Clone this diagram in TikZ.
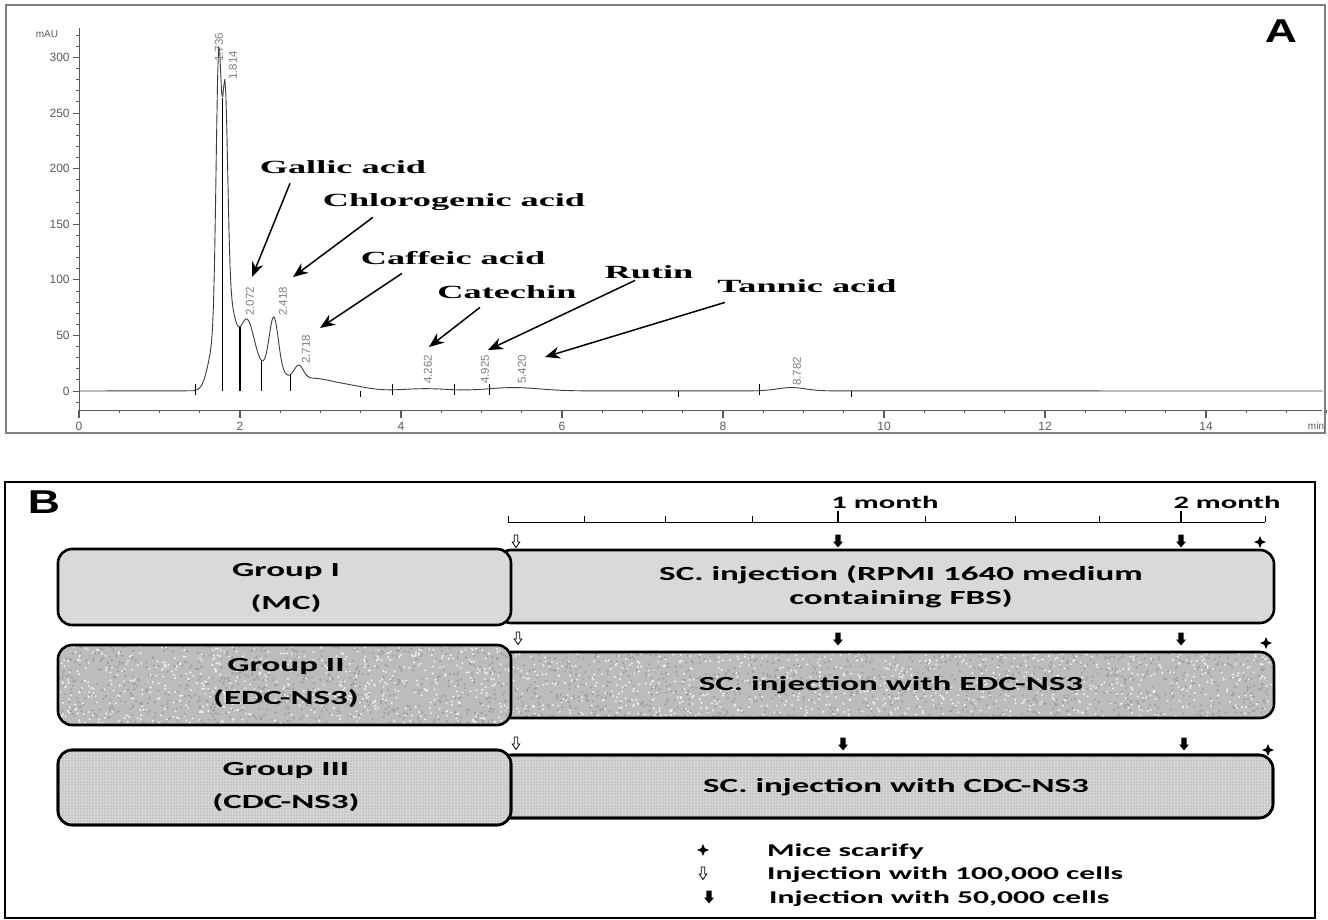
\documentclass[tikz,border=0pt]{standalone}
\usepackage{fontspec}
\usepackage{tikz}
\usetikzlibrary{arrows.meta, shapes.geometric, patterns.meta}

\newfontfamily\axisfont{Liberation Sans}
\newfontfamily\panelfont[FakeStretch=1.35]{Liberation Sans}
\newfontfamily\compfont[FakeStretch=1.95]{Liberation Serif}
\newfontfamily\grpfont[FakeStretch=1.75]{Carlito}

\definecolor{axisgray}{RGB}{90,90,90}
\definecolor{tracegray}{RGB}{60,60,60}
\definecolor{boxone}{RGB}{217,217,217}
\definecolor{boxtwo}{RGB}{188,188,188}
\definecolor{boxthree}{RGB}{214,214,214}

\begin{document}
\begin{tikzpicture}[x=1pt, y=-1pt,
    declare function={
        peak(\x,\m,\h,\w) = \h*exp(-pow(min(abs(\x-\m)/\w,3),2));
        trace(\x) = peak(\x,1.735,240,0.045) + peak(\x,1.815,188,0.045)
                  + peak(\x,1.70,45,0.12) + peak(\x,1.86,70,0.11)
                  + peak(\x,2.08,50,0.13) + peak(\x,2.42,48,0.08)
                  + peak(\x,2.30,20,0.35) + peak(\x,2.73,12,0.08)
                  + peak(\x,2.90,9,0.30) + peak(\x,3.30,5,0.35)
                  + peak(\x,4.30,2,0.40) + peak(\x,5.40,3,0.45)
                  + peak(\x,8.85,3,0.25);
    }]

                % Styles for the chromatogram (A) and the timeline (B)
                \tikzset{
                    comptxt/.style={font=\compfont\bfseries\fontsize{18.6}{20}\selectfont, anchor=base, inner sep=2pt},
                    comparrow/.style={line width=1.5pt, -{Stealth[length=15pt, width=12pt]}},
                    peaklab/.style={font=\axisfont\fontsize{11.5}{11.5}\selectfont, text=gray, rotate=90, anchor=west, inner sep=0pt},
                    ticklab/.style={font=\axisfont\fontsize{12}{12}\selectfont, text=axisgray, inner sep=0pt},
                    paneltxt/.style={font=\panelfont\bfseries\fontsize{33}{33}\selectfont, inner sep=0pt},
                    grouptxt/.style={font=\grpfont\bfseries\fontsize{20}{33}\selectfont, align=center},
                    injtxt/.style={font=\grpfont\bfseries\fontsize{20}{23.5}\selectfont, align=center},
                    monthtxt/.style={font=\grpfont\bfseries\fontsize{17.5}{17.5}\selectfont},
                    keytxt/.style={font=\grpfont\bfseries\fontsize{18}{18}\selectfont, anchor=base west, inner sep=0pt},
                    boxline/.style={line width=2.6pt, rounded corners=14pt},
                    dotrows/.style={pattern={Dots[distance=3pt, radius=0.65pt]}, pattern color=gray!85, rounded corners=14pt},
                    openmark/.pic={\draw[fill=white, line width=0.8pt, line join=miter]
                        (-1.8,-6) -- (1.8,-6) -- (1.8,1) -- (3.8,1) -- (0,6.5) -- (-3.8,1) -- (-1.8,1) -- cycle;},
                    fullmark/.pic={\fill[black]
                        (-2.6,-6.5) -- (2.6,-6.5) -- (2.6,0.5) -- (5,0.5) -- (0,6.5) -- (-5,0.5) -- (-2.6,0.5) -- cycle;},
                    scarify/.style={star, star points=4, star point ratio=2.4, fill=black, minimum size=12pt, inner sep=0pt}
                }

                \useasboundingbox (0,0) rectangle (1328,920);
                \fill[white] (0,0) rectangle (1328,920);
                \pgfmathsetseed{42}

                % Panel frames
                \draw[gray, line width=1.6pt] (6,5) rectangle (1325,433);
                \draw[black, line width=1.5pt] (5,482) rectangle (1315,918);

                % Axes of the chromatogram, in pixel units
                \begin{scope}[axisgray, line width=0.8pt]
                    \draw (79,28) -- (79,416);
                    \draw (79,410) -- (1322,410);
                    \foreach \v in {-10,0,...,320}
                        \draw ({79},{391-1.112*\v}) -- ({76},{391-1.112*\v});
                    \foreach \v in {0,50,...,300} {
                        \draw ({79},{391-1.112*\v}) -- ({73},{391-1.112*\v});
                        \node (ylab\v) at ({70},{391-1.112*\v}) [ticklab, anchor=east] {\v};
                    }
                    \foreach \m in {0,0.5,...,15.5}
                        \draw ({79+80.5*\m},410) -- ({79+80.5*\m},413);
                    \foreach \m in {0,2,...,14} {
                        \draw[line width=1.1pt] ({79+80.5*\m},410) -- ({79+80.5*\m},418);
                        \node (xlab\m) at ({79+80.5*\m},426) [ticklab] {\m};
                    }
                    \node (yunit) at (47,34) [ticklab, font=\axisfont\fontsize{10}{10}\selectfont] {mAU};
                    \node (xunit) at (1316,426) [ticklab, font=\axisfont\fontsize{10}{10}\selectfont] {min};
                \end{scope}

                % Trace in data units: minutes and mAU
                \begin{scope}[shift={(79,391)}, x=80.5pt, y=1.112pt]
                    \draw[tracegray, line width=0.9pt, line join=round]
                        (0,0) -- plot[domain=1.4:10.4, samples=700] (\x,{trace(\x)}) -- (15.45,0);
                    \foreach \t in {1.78,2.0,2.27,2.63}
                        \draw[black, line width=1.3pt] (\t,0) -- (\t,{trace(\t)});
                    \foreach \t in {1.45,3.9,4.66,5.1,8.45}
                        \draw[black, line width=1pt] (\t,-4) -- (\t,6);
                    \foreach \t in {3.5,7.45,9.6}
                        \draw[black, line width=1pt] (\t,0) -- (\t,-5);
                \end{scope}

                % Retention times printed over the peaks
                \node (l1736) at (219,62) [peaklab] {1.736};
                \node (l1814) at (233,80) [peaklab] {1.814};
                \node (l2072) at (250,316) [peaklab] {2.072};
                \node (l2418) at (283,316) [peaklab] {2.418};
                \node (l2718) at (306,364) [peaklab] {2.718};
                \node (l4262) at (428,384) [peaklab] {4.262};
                \node (l4925) at (485,384) [peaklab] {4.925};
                \node (l5420) at (522,384) [peaklab] {5.420};
                \node (l8782) at (797,386) [peaklab] {8.782};

                % Compound names with their arrows
                \node (gallic) at (343,174) [comptxt] {Gallic acid};
                \node (chloro) at (454,207) [comptxt] {Chlorogenic acid};
                \node (caffeic) at (453,265) [comptxt] {Caffeic acid};
                \node (catechin) at (507,298) [comptxt] {Catechin};
                \node (rutin) at (649,278) [comptxt] {Rutin};
                \node (tannic) at (807,292) [comptxt] {Tannic acid};

                \coordinate (gallicTip) at (252,277);
                \coordinate (chloroTip) at (293,277);
                \coordinate (caffeicTip) at (320,328);
                \coordinate (catechinTip) at (429,347);
                \coordinate (rutinTip) at (488,350);
                \coordinate (tannicTip) at (545,357);

                \draw[comparrow] ([xshift=-53pt, yshift=-7pt]gallic.south) -- (gallicTip);
                \draw[comparrow] ([xshift=-81pt, yshift=-4pt]chloro.south) -- (chloroTip);
                \draw[comparrow] ([xshift=-51pt, yshift=-6pt]caffeic.south) -- (caffeicTip);
                \draw[comparrow] ([xshift=-27pt, yshift=-7pt]catechin.south) -- (catechinTip);
                \draw[comparrow] ([xshift=-14pt, yshift=0pt]rutin.south) -- (rutinTip);
                \draw[comparrow] ([xshift=-82pt, yshift=-8pt]tannic.south) -- (tannicTip);

                \node (panelA) at (1281,31) [paneltxt] {A};
                \node (panelB) at (44,502) [paneltxt] {B};

                % Timeline above the groups
                \begin{scope}[line width=1pt]
                    \draw (508,522) -- (1265,522);
                    \foreach \t in {508,584,665,752,925,1015,1099,1265}
                        \draw (\t,522) -- (\t,516);
                    \foreach \t in {838,1181}
                        \draw[line width=2pt] (\t,522) -- (\t,511);
                \end{scope}
                \node (month1) at (885,502) [monthtxt] {1 month};
                \node (month2) at (1227,502) [monthtxt] {2 month};

                % Group I: plain grey
                \draw[boxline, fill=boxone] (497,550) rectangle (1274,623);
                \draw[boxline, fill=boxone] (58,549) rectangle (511,625);

                % Group II: grey speckle
                \begin{scope}
                    \clip[rounded corners=14pt] (497,652) rectangle (1274,718);
                    \fill[boxtwo] (497,652) rectangle (1274,718);
                    \foreach \i in {1,...,1100}
                        \fill[gray!75] ({497+777*rnd},{652+66*rnd}) circle (1.2);
                    \foreach \i in {1,...,900}
                        \fill[gray!10] ({497+777*rnd},{652+66*rnd}) circle (1.1);
                \end{scope}
                \draw[boxline] (497,652) rectangle (1274,718);
                \begin{scope}
                    \clip[rounded corners=14pt] (58,645) rectangle (511,725);
                    \fill[boxtwo] (58,645) rectangle (511,725);
                    \foreach \i in {1,...,800}
                        \fill[gray!75] ({58+453*rnd},{645+80*rnd}) circle (1.2);
                    \foreach \i in {1,...,650}
                        \fill[gray!10] ({58+453*rnd},{645+80*rnd}) circle (1.1);
                \end{scope}
                \draw[boxline] (58,645) rectangle (511,725);

                % Group III: dotted rows
                \draw[boxline, fill=boxthree] (497,755) rectangle (1273,818);
                \fill[dotrows] (497,755) rectangle (1273,818);
                \draw[boxline] (497,755) rectangle (1273,818);
                \draw[boxline, fill=boxthree] (58,750) rectangle (511,825);
                \fill[dotrows] (58,750) rectangle (511,825);
                \draw[boxline] (58,750) rectangle (511,825);

                % Box texts
                \node (grpI) at (286,588) [grouptxt] {Group I\\(MC)};
                \node (injI) at (901,587) [injtxt] {SC. injection (RPMI 1640 medium\\containing FBS)};
                \node (grpII) at (286,683) [grouptxt] {Group II\\(EDC-NS3)};
                \node (injII) at (891,685) [injtxt] {SC. injection with EDC-NS3};
                \node (grpIII) at (286,787) [grouptxt] {Group III\\(CDC-NS3)};
                \node (injIII) at (896,787) [injtxt] {SC. injection with CDC-NS3};

                % Injection and scarify marks over each group
                \pic (openI) at (516,541) {openmark};
                \pic (fullIa) at (838,541) {fullmark};
                \pic (fullIb) at (1181,541) {fullmark};
                \node (starI) at (1260,542) [scarify] {};
                \pic (openII) at (518,638) {openmark};
                \pic (fullIIa) at (838,639) {fullmark};
                \pic (fullIIb) at (1181,639) {fullmark};
                \node (starII) at (1266,643) [scarify] {};
                \pic (openIII) at (516,743) {openmark};
                \pic (fullIIIa) at (843,744) {fullmark};
                \pic (fullIIIb) at (1184,744) {fullmark};
                \node (starIII) at (1268,750) [scarify] {};

                % Key
                \node (keyStar) at (703,850) [scarify] {};
                \pic (keyOpen) at (703,873) {openmark};
                \pic (keyFull) at (709,897) {fullmark};
                \node (keyStarTxt) at (767,856) [keytxt] {Mice scarify};
                \node (keyOpenTxt) at (767,879) [keytxt] {Injection with 100,000 cells};
                \node (keyFullTxt) at (769,903) [keytxt] {Injection with 50,000 cells};

\end{tikzpicture}
\end{document}
